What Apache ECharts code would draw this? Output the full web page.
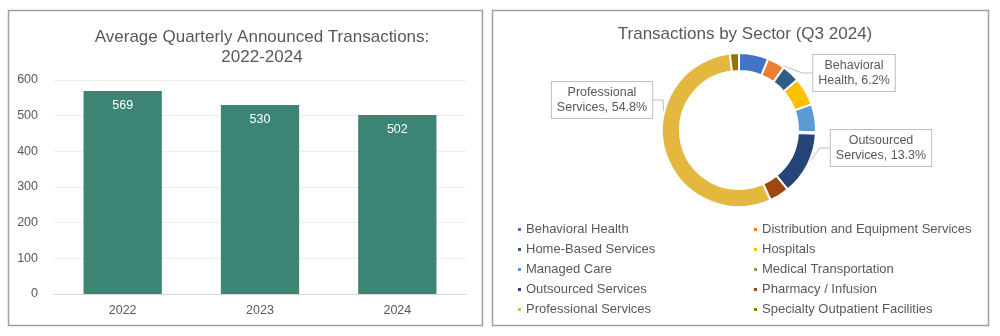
<!DOCTYPE html>
<html>
<head>
<meta charset="utf-8">
<script src="https://cdn.jsdelivr.net/npm/echarts@6/dist/echarts.min.js"></script>
<style>
  html, body { margin: 0; padding: 0; background: #ffffff; }
  #chart { width: 1000px; height: 336px; }
</style>
</head>
<body>
<div id="chart"></div>
<script>
// Average quarterly announced transactions by year
const years = ['2022', '2023', '2024'];
const avgTransactions = [569, 530, 502];
const yTicks = { min: 0, max: 600, interval: 100 };

// Q3 2024 sector mix (percent of transactions)
const sectors = [
  'Behavioral Health',
  'Distribution and Equipment Services',
  'Home-Based Services',
  'Hospitals',
  'Managed Care',
  'Medical Transportation',
  'Outsourced Services',
  'Pharmacy / Infusion',
  'Professional Services',
  'Specialty Outpatient Facilities'
];
const sectorShare = [6.2, 3.7, 3.8, 5.9, 5.9, 0.3, 13.3, 4.2, 54.8, 1.9];
const labelledSectors = ['Behavioral Health', 'Outsourced Services', 'Professional Services'];

const sectorColors = ['#4472C4', '#ED7D31', '#2F5D8A', '#FFC000', '#5B9BD5',
                      '#70AD47', '#264478', '#9E480E', '#E4B83E', '#997300'];
const textGrey = '#595959';
const fontFamily = '"Liberation Sans", Arial, sans-serif';

// callout box placement for the labelled sectors
const calloutPos = {
  'Behavioral Health':     { x: 854, y: 73 },
  'Outsourced Services':   { x: 881, y: 148 },
  'Professional Services': { x: 602, y: 100 }
};

const chart = echarts.init(document.getElementById('chart'), null, { renderer: 'canvas' });

const pieData = sectors.map((name, i) => ({
  name,
  value: sectorShare[i],
  label: { show: labelledSectors.includes(name) },
  labelLine: { show: labelledSectors.includes(name) }
}));

const legendItem = (names, left) => ({
  data: names,
  orient: 'vertical',
  left: left,
  top: 218,
  itemGap: 7,
  itemWidth: 5,
  itemHeight: 5,
  icon: 'rect',
  selectedMode: false,
  textStyle: { color: textGrey, fontSize: 13, fontFamily, padding: [0, 0, 0, -1] }
});

const option = {
  backgroundColor: '#ffffff',
  animation: false,
  textStyle: { fontFamily },
  graphic: [
    { type: 'rect', shape: { x: 8.5, y: 10.5, width: 474, height: 315 },
      style: { fill: 'none', stroke: '#a0a0a0', lineWidth: 1.5 } },
    { type: 'rect', shape: { x: 492.5, y: 10.5, width: 496, height: 315 },
      style: { fill: 'none', stroke: '#a0a0a0', lineWidth: 1.5 } }
  ],
  title: [
    {
      text: 'Average Quarterly Announced Transactions:\n2022-2024',
      left: 257, top: 22, textAlign: 'center',
      textStyle: { color: textGrey, fontSize: 17, fontWeight: 'normal', lineHeight: 20, fontFamily }
    },
    {
      text: 'Transactions by Sector (Q3 2024)',
      left: 740, top: 21, textAlign: 'center',
      textStyle: { color: textGrey, fontSize: 17, fontWeight: 'normal', fontFamily }
    }
  ],
  legend: [
    legendItem(sectors.filter((_, i) => i % 2 === 0), 511),
    legendItem(sectors.filter((_, i) => i % 2 === 1), 747)
  ],
  color: sectorColors,
  grid: { left: 54, right: 534, top: 80, bottom: 42, containLabel: false },
  xAxis: {
    type: 'category',
    data: years,
    axisLine: { lineStyle: { color: '#d9d9d9' } },
    axisTick: { show: false },
    axisLabel: { color: textGrey, fontSize: 12.5, margin: 10 }
  },
  yAxis: {
    type: 'value',
    min: yTicks.min, max: yTicks.max, interval: yTicks.interval,
    axisLine: { show: false },
    axisTick: { show: false },
    splitLine: { lineStyle: { color: '#eeeeee' } },
    axisLabel: { color: textGrey, fontSize: 12.5, margin: 16 }
  },
  series: [
    {
      type: 'bar',
      data: avgTransactions,
      barWidth: '57%',
      itemStyle: { color: '#3C8474' },
      label: {
        show: true, position: 'insideTop', distance: 8,
        color: '#ffffff', fontSize: 12.5, fontFamily
      }
    },
    {
      type: 'pie',
      center: [739, 130],
      radius: [59, 77],
      startAngle: 90,
      clockwise: true,
      data: pieData,
      itemStyle: { borderColor: '#ffffff', borderWidth: 2 },
      label: {
        position: 'outside',
        formatter: p => {
          const k = p.name.indexOf(' ');
          return p.name.slice(0, k) + '\n' + p.name.slice(k + 1) + ', ' + p.value.toFixed(1) + '%';
        },
        color: textGrey,
        fontSize: 12.5,
        lineHeight: 15,
        align: 'center',
        backgroundColor: '#ffffff',
        borderColor: '#bfbfbf',
        borderWidth: 1,
        padding: [3, 5, 3, 5]
      },
      labelLine: { lineStyle: { color: '#bfbfbf', width: 1 }, length: 10, length2: 10 },
      labelLayout: params => {
        const name = sectors[params.dataIndex];
        const pos = calloutPos[name];
        if (!pos) return {};
        return { x: pos.x, y: pos.y, align: 'center', verticalAlign: 'middle' };
      },
      emphasis: { disabled: true }
    }
  ]
};

chart.setOption(option);
</script>
</body>
</html>
